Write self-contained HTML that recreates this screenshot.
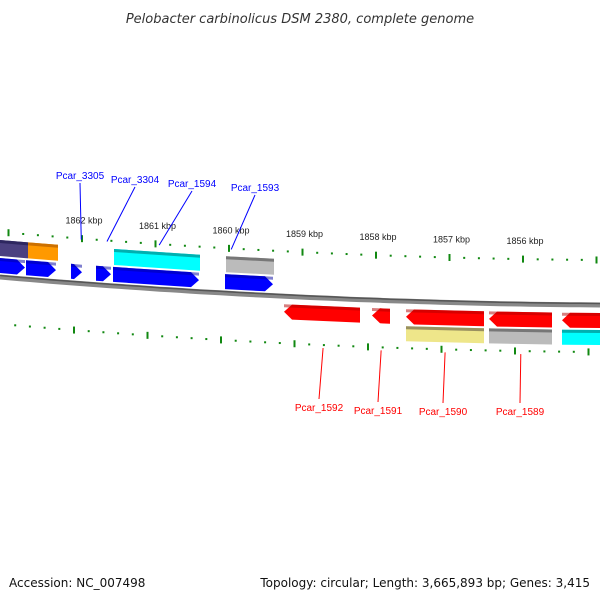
<!DOCTYPE html>
<html><head><meta charset="utf-8"><style>
body{margin:0;background:#fff}
svg{display:block;font-family:"Liberation Sans",sans-serif}
</style></head><body>
<svg id="c" width="600" height="600" viewBox="0 0 600 600">
<text x="300" y="23" text-anchor="middle" font-size="13" font-style="italic" fill="#333" style="font-family:'DejaVu Sans',sans-serif">Pelobacter carbinolicus DSM 2380, complete genome</text>
<text x="9" y="587" font-size="12" fill="#111" style="font-family:'DejaVu Sans',sans-serif">Accession: NC_007498</text>
<text x="590" y="587" font-size="12" fill="#111" text-anchor="end" style="font-family:'DejaVu Sans',sans-serif">Topology: circular; Length: 3,665,893 bp; Genes: 3,415</text>
<g id="g"></g>
</svg>
<script>
const tickMajors=[1863,1862,1861,1860,1859,1858,1857,1856,1855];
const tickLabels=["","1862 kbp","1861 kbp","1860 kbp","1859 kbp","1858 kbp","1857 kbp","1856 kbp",""];
const geneStart=[1863.12,1862.735,1861.565,1860.041,1863.12,1862.762,1862.15,1861.81,1861.578,1860.054,1859.252,1858.054,1857.592,1856.463,1855.469,1857.592,1856.463,1855.469];
const geneEnd=[1862.735,1862.327,1860.395,1859.388,1862.776,1862.354,1862.0,1861.605,1860.408,1859.401,1858.218,1857.81,1856.531,1855.605,1854.9,1856.531,1855.605,1854.9];
const geneTrack=[1,1,1,1,2,2,2,2,2,2,3,3,3,3,3,4,4,4];
const geneColor=["#4b4080","#ff9900","#00ffff","#bbbbbb","#0000ff","#0000ff","#0000ff","#0000ff","#0000ff","#0000ff","#ff0000","#ff0000","#ff0000","#ff0000","#ff0000","#eee68a","#bbbbbb","#00ffff"];
const geneDark=["#2e2760","#cc7000","#00b0b0","#777777","#0000a0","#0000a0","#0000a0","#0000a0","#0000a0","#0000a0","#b00000","#b00000","#b00000","#b00000","#b00000","#999060","#777777","#00b0b0"];
const labelNames=["Pcar_3305","Pcar_3304","Pcar_1594","Pcar_1593","Pcar_1592","Pcar_1591","Pcar_1590","Pcar_1589"];
const labelKbp=[1862.01,1861.66,1860.95,1859.97,1858.72,1857.93,1857.06,1856.03];
const labelTx=[80,135,192,255,319,378,443,520];
const labelTop=[true,true,true,true,false,false,false,false];

const NS="http://www.w3.org/2000/svg";
const G=document.getElementById('g');
const X=k=>82+(1862-k)*73.5;
const Y=x=>277+0.0867*x-6.67e-5*x*x;
const trackOff={1:[-37,-21],2:[-19,-4],3:[8,23],4:[25,40]};
function mk(t,a){const e=document.createElementNS(NS,t);for(const k in a)e.setAttribute(k,a[k]);G.appendChild(e);return e;}

let d="";for(let x=0;x<=600;x+=10){d+=(x?"L":"M")+x+" "+Y(x).toFixed(1)+" ";}
let bb=mk('path',{d:d,stroke:'#888',"stroke-width":5,fill:'none'});


let bb2=mk('path',{d:d,stroke:'#555',"stroke-width":1.5,fill:'none',transform:'translate(0,-1.5)'});



for(let i=0;i<tickMajors.length;i++){
  for(let m=0;m<5;m++){
    const k=tickMajors[i]-m*0.2;
    [[0,-45],[-8,47]].forEach(([dx,off],row)=>{
      const x=X(k)+dx; if(x<2||x>598)return;
      const y=Y(x)+off; const h=m===0?7:2;
      const t=mk('rect',{x:x-1,y:y-h/2,width:2,height:h,fill:'#118811'});
      
      
    });
  }
  if(tickLabels[i]){
    const x=X(tickMajors[i]);
    const t=mk('text',{x:x+2,y:Y(x)-45-15,"font-size":9,"text-anchor":"middle",fill:'#222'});
    t.textContent=tickLabels[i];
    
    
  }
}

for(let i=0;i<geneStart.length;i++){
  const x1=X(geneStart[i]),x2=X(geneEnd[i]);
  const [o1,o2]=trackOff[geneTrack[i]];
  const y1=Y(x1),y2=Y(x2);
  let pts;
  const ah=8;
  if(geneTrack[i]===2){
    const xe=Math.max(x1,x2-ah),ym=(o1+o2)/2;
    pts=[[x1,y1+o1],[xe,Y(xe)+o1],[x2,Y(x2)+ym],[xe,Y(xe)+o2],[x1,y1+o2]];
  }else if(geneTrack[i]===3){
    const xs=Math.min(x2,x1+ah),ym=(o1+o2)/2;
    pts=[[x1,y1+ym],[xs,Y(xs)+o1],[x2,y2+o1],[x2,y2+o2],[xs,Y(xs)+o2]];
  }else{
    pts=[[x1,y1+o1],[x2,y2+o1],[x2,y2+o2],[x1,y1+o2]];
  }
  const p=mk('polygon',{points:pts.map(q=>q[0].toFixed(1)+","+q[1].toFixed(1)).join(" "),fill:geneColor[i]});
  
  
  const s=mk('polygon',{points:[[x1,y1+o1],[x2,y2+o1],[x2,y2+o1+3],[x1,y1+o1+3]].map(q=>q[0].toFixed(1)+","+q[1].toFixed(1)).join(" "),fill:geneDark[i]});
  if(geneTrack[i]===2||geneTrack[i]===3){s.setAttribute('opacity','0.5');}
  
  
}

for(let i=0;i<labelNames.length;i++){
  const x=X(labelKbp[i]);const top=labelTop[i];
  const col=top?'#0000ff':'#ff0000';
  const ty=top?[175,179,183,187][i]:[407,410,411,411][i-4];
  const yEnd=top?Y(x)-44:Y(x)+50;
  const l=mk('line',{x1:x,y1:yEnd,x2:labelTx[i],y2:top?ty+8:ty-8,stroke:col,"stroke-width":1});
  
  
  const t=mk('text',{x:labelTx[i],y:ty+4,"font-size":10,"text-anchor":"middle",fill:col});
  t.textContent=labelNames[i];
  
  
}
</script>
</body></html>
